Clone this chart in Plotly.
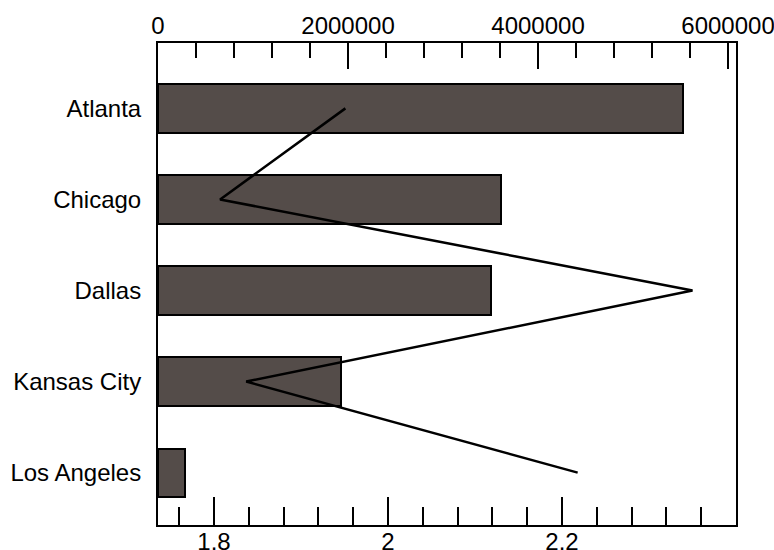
import plotly.graph_objects as go

cities = ["Atlanta", "Chicago", "Dallas", "Kansas City", "Los Angeles"]
bar_values = [5523000, 3610000, 3500000, 1923000, 287000]
line_values = [1.951, 1.807, 2.35, 1.837, 2.218]

top_tickvals = [0, 2000000, 4000000, 6000000]
top_ticktext = ["0", "2000000", "4000000", "6000000"]
bottom_tickvals = [1.8, 2.0, 2.2]
bottom_ticktext = ["1.8", "2", "2.2"]

FONT = "Liberation Sans, Arial, Helvetica, sans-serif"

fig = go.Figure()
fig.add_trace(go.Bar(
    y=cities, x=bar_values, orientation="h", xaxis="x", yaxis="y",
    width=0.53,
    marker=dict(color="#544c49", line=dict(color="black", width=2)),
    showlegend=False, hoverinfo="x+y",
))
fig.add_trace(go.Scatter(
    y=cities, x=line_values, mode="lines", xaxis="x2", yaxis="y",
    line=dict(color="black", width=2.5),
    showlegend=False,
))

fig.update_layout(
    template="none",
    width=774, height=550,
    margin=dict(l=158, r=38, t=43, b=25, autoexpand=False),
    paper_bgcolor="white", plot_bgcolor="white",
    font=dict(family=FONT, size=24, color="black"),
    bargap=0,
    xaxis=dict(
        side="top", range=[0, 6084000], automargin=False,
        tickmode="array", tickvals=top_tickvals, ticktext=top_ticktext,
        ticks="inside", ticklen=26, tickwidth=2, tickcolor="black",
        minor=dict(tickmode="linear", tick0=0, dtick=400000, ticks="inside",
                   ticklen=15, tickwidth=2, tickcolor="black", showgrid=False),
        showline=True, linecolor="black", linewidth=2,
        showgrid=False, zeroline=False,
        ticklabelstandoff=-3, ticklabeloverflow="allow",
        tickfont=dict(size=24),
    ),
    xaxis2=dict(
        side="bottom", overlaying="x", range=[1.7356, 2.4], automargin=False,
        tickmode="array", tickvals=bottom_tickvals, ticktext=bottom_ticktext,
        ticks="inside", ticklen=28, tickwidth=2, tickcolor="black",
        minor=dict(tickmode="linear", tick0=1.8, dtick=0.04, ticks="inside",
                   ticklen=18, tickwidth=2, tickcolor="black", showgrid=False),
        showline=True, linecolor="black", linewidth=2,
        showgrid=False, zeroline=False,
        ticklabelstandoff=-6, ticklabeloverflow="allow",
        tickfont=dict(size=24),
    ),
    yaxis=dict(
        type="category", categoryorder="array", categoryarray=cities,
        range=[4.575, -0.718], automargin=False,
        showline=True, mirror=True, linecolor="black", linewidth=2,
        ticks="", showgrid=False, zeroline=False,
        ticklabelstandoff=10,
        tickfont=dict(size=24),
    ),
)

fig.write_html("out.html", config={"displayModeBar": False},
               post_script="document.body.style.margin='0';")
